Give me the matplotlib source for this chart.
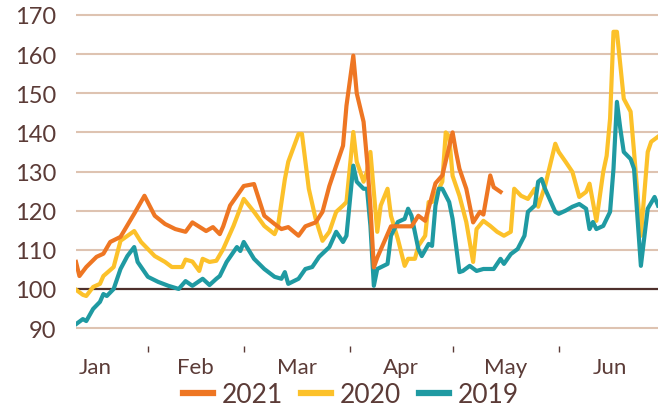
import matplotlib
matplotlib.use('Agg')
from matplotlib import pyplot as plt

# x values are day of year (0 = 1 Jan)
day_2021 = [10, 11, 13, 16, 18, 20, 23, 27, 30, 33, 36, 39, 42, 44, 48, 50, 52, 53, 55, 59,
            62, 65, 68, 70, 72, 75, 77, 80, 82, 84, 86, 88, 89, 91, 92, 94, 95, 96, 97, 98,
            100, 102, 108, 110, 112, 115, 117, 120, 121, 122, 124, 126, 128, 129, 131, 132, 134]
val_2021 = [106.9, 103.3, 105.6, 108.2, 109.0, 112.0, 113.3, 119.2, 123.8, 118.7, 116.6, 115.3,
            114.6, 117.0, 114.8, 115.8, 114.0, 116.0, 121.3, 126.3, 126.8, 118.7, 116.6, 115.3,
            115.8, 113.6, 116.0, 117.0, 119.7, 126.3, 131.5, 136.6, 146.8, 159.6, 150.0, 142.7,
            133.0, 121.0, 105.5, 108.0, 112.0, 116.0, 116.0, 118.7, 117.4, 127.0, 129.0, 140.0,
            135.0, 130.7, 125.6, 117.0, 119.7, 119.0, 129.0, 126.0, 124.8]

day_2020 = [10, 12, 13, 15, 17, 18, 21, 23, 27, 29, 33, 36, 38, 41, 42, 44, 46, 47, 49, 51,
            53, 56, 59, 62, 65, 68, 69, 71, 72, 75, 76, 78, 80, 82, 84, 86, 88, 89, 91, 92,
            94, 95, 96, 97, 98, 99, 101, 102, 104, 106, 107, 109, 110, 112, 113, 114, 115, 117,
            118, 119, 120, 122, 124, 126, 127, 129, 131, 133, 135, 137, 138, 140, 142, 144, 145,
            147, 150, 151, 153, 155, 157, 159, 160, 162, 164, 165, 166, 167, 168, 170, 172, 173,
            175, 177, 178, 180]
val_2020 = [99.8, 98.5, 98.2, 100.5, 101.3, 103.3, 105.6, 112.3, 114.8, 112.0, 108.4, 106.9,
            105.6, 105.6, 107.5, 107.0, 104.6, 107.7, 106.9, 107.2, 110.2, 116.1, 123.0, 119.7,
            116.1, 114.0, 116.1, 128.0, 132.5, 139.6, 139.6, 125.6, 117.9, 112.3, 114.6, 119.7,
            121.3, 122.2, 140.1, 132.5, 127.4, 130.0, 135.0, 124.8, 114.6, 121.3, 125.6, 118.7,
            112.8, 105.9, 107.7, 107.7, 111.0, 113.6, 122.2, 122.2, 123.8, 127.4, 140.0, 139.0,
            128.9, 123.8, 117.1, 106.9, 115.3, 117.4, 116.1, 114.6, 113.6, 114.6, 125.6, 123.8,
            123.0, 125.6, 121.0, 126.3, 137.1, 135.0, 132.5, 129.9, 123.5, 124.8, 126.9, 117.4,
            129.9, 134.0, 143.5, 165.7, 165.7, 148.6, 145.3, 135.0, 113.6, 135.0, 137.6, 138.9]

day_2019 = [10, 12, 13, 15, 17, 18, 19, 21, 23, 25, 27, 28, 31, 34, 37, 40, 42, 44, 47, 49,
            51, 52, 54, 57, 58, 59, 62, 65, 68, 70, 71, 72, 75, 77, 79, 81, 84, 86, 88, 89,
            91, 92, 94, 95, 96, 97, 98, 101, 102, 104, 106, 107, 108, 110, 111, 113, 114, 115,
            116, 117, 119, 120, 122, 123, 125, 127, 129, 132, 134, 135, 137, 139, 141, 142, 144,
            145, 146, 147, 150, 151, 153, 155, 157, 159, 160, 161, 162, 164, 166, 167, 168, 169,
            170, 172, 173, 175, 177, 179, 180]
val_2019 = [91.0, 92.3, 91.8, 94.9, 96.7, 98.7, 98.2, 100.0, 105.1, 108.4, 110.7, 106.9, 103.1,
            101.8, 100.8, 100.0, 102.0, 100.8, 102.6, 101.0, 102.6, 103.3, 106.9, 110.7, 109.7,
            112.0, 107.7, 105.1, 103.1, 102.6, 104.3, 101.3, 102.6, 105.1, 105.6, 108.2, 110.7,
            114.6, 112.0, 113.6, 131.5, 127.4, 125.6, 125.6, 116.1, 100.8, 105.1, 106.4, 113.6,
            117.1, 117.9, 120.5, 118.7, 110.2, 108.4, 111.5, 111.0, 121.3, 125.6, 125.6, 122.2,
            117.9, 104.3, 104.6, 105.9, 104.6, 105.1, 105.1, 107.7, 106.4, 108.9, 110.2, 113.6,
            119.7, 121.3, 127.4, 128.1, 125.6, 119.7, 119.2, 120.0, 121.0, 121.7, 120.5, 115.3,
            117.1, 115.3, 116.1, 119.7, 130.7, 147.8, 140.9, 135.0, 133.2, 130.7, 105.9, 120.5,
            123.5, 121.3]

months = ['Jan', 'Feb', 'Mar', 'Apr', 'May', 'Jun']
month_starts = [0, 31, 59, 90, 120, 151, 181]
y_ticks = [90, 100, 110, 120, 130, 140, 150, 160, 170]

text_col = '#5b3b37'
grid_col = '#dec3b1'
c2021 = '#ee7623'
c2020 = '#fcc12a'
c2019 = '#1f9aa2'

plt.rcParams['font.family'] = ['Lato', 'DejaVu Sans']

fig = plt.figure(figsize=(6.58, 4.10), dpi=100)
ax = fig.add_axes([76 / 658, 1 - 333 / 410, 582 / 658, 319 / 410])

for y in y_ticks:
    if y == 100:
        ax.axhline(y, color='#4e302c', lw=1.6, zorder=1)
    else:
        ax.axhline(y, color=grid_col, lw=1.5, zorder=1)

ax.plot(day_2021, val_2021, color=c2021, lw=3, label='2021', zorder=5, solid_joinstyle='round')
ax.plot(day_2020, val_2020, color=c2020, lw=3, label='2020', zorder=3, solid_joinstyle='round')
ax.plot(day_2019, val_2019, color=c2019, lw=3, label='2019', zorder=4, solid_joinstyle='round')

ax.set_xlim(10, 180)
ax.set_ylim(89, 170.5)

for s in ax.spines.values():
    s.set_visible(False)
ax.spines['bottom'].set_position(('outward', 10))

ax.set_yticks(y_ticks)
ax.tick_params(axis='y', length=0, pad=14, labelsize=17, labelcolor=text_col)

centers = [(month_starts[i] + month_starts[i + 1]) / 2 for i in range(len(months))]
ax.set_xticks(centers)
ax.set_xticklabels(months)
ax.set_xticks(month_starts[1:-1], minor=True)
ax.tick_params(axis='x', which='major', length=0, pad=8, labelsize=16, labelcolor=text_col)
ax.tick_params(axis='x', which='minor', length=4, width=1, color=text_col)

leg = fig.legend(loc='center', bbox_to_anchor=(0.533, 0.035), ncol=3, frameon=False,
                 fontsize=19, handlelength=1.15, handletextpad=0.3, columnspacing=0.7)
for t in leg.get_texts():
    t.set_color(text_col)
for h in leg.legend_handles:
    h.set_linewidth(4.5)

fig.savefig('out.png', dpi=100)
